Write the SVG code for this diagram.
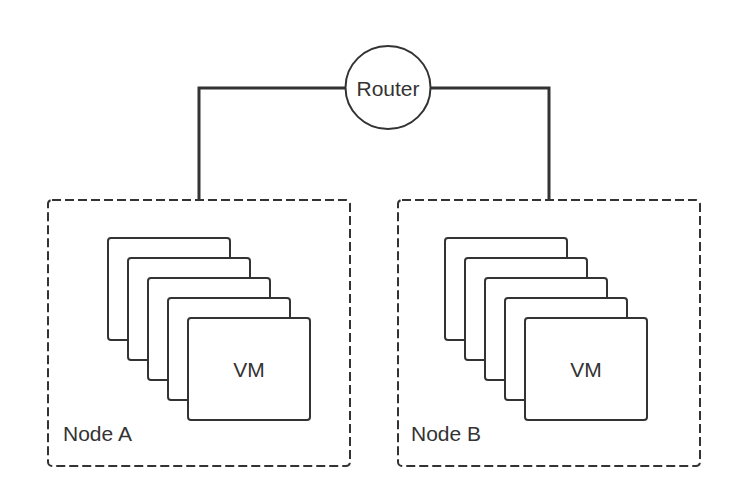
<svg xmlns="http://www.w3.org/2000/svg" width="732" height="499" viewBox="0 0 732 499">
<style>
.conn{fill:none;stroke:#333;stroke-width:3}
.host{fill:none;stroke:#333;stroke-width:2;stroke-dasharray:9 4}
.vm{fill:#fff;stroke:#333;stroke-width:2}
.router{fill:#fff;stroke:#333;stroke-width:2}
text{font-family:"Liberation Sans",Arial,sans-serif;font-size:21px;fill:#333}
</style>
<rect width="732" height="499" fill="#fff"/>
<g id="connectors">
<path class="conn" d="M199 200 V88 H345"/>
<path class="conn" d="M431 88 H549 V200"/>
</g>
<g id="router">
<ellipse class="router" cx="388" cy="87.5" rx="42.5" ry="41.5"/>
<text x="388" y="96" text-anchor="middle">Router</text>
</g>
<g id="nodeA">
<rect class="host" x="48" y="200" width="302" height="266" rx="4"/>
<rect class="vm" x="108" y="238" width="122" height="102" rx="3"/>
<rect class="vm" x="128" y="258" width="122" height="102" rx="3"/>
<rect class="vm" x="148" y="278" width="122" height="102" rx="3"/>
<rect class="vm" x="168" y="298" width="122" height="102" rx="3"/>
<rect class="vm" x="188" y="318" width="122" height="102" rx="3"/>
<text x="249" y="377" text-anchor="middle">VM</text>
<text x="63" y="441">Node A</text>
</g>
<g id="nodeB">
<rect class="host" x="398" y="200" width="302" height="266" rx="4"/>
<rect class="vm" x="445" y="238" width="122" height="102" rx="3"/>
<rect class="vm" x="465" y="258" width="122" height="102" rx="3"/>
<rect class="vm" x="485" y="278" width="122" height="102" rx="3"/>
<rect class="vm" x="505" y="298" width="122" height="102" rx="3"/>
<rect class="vm" x="525" y="318" width="122" height="102" rx="3"/>
<text x="586" y="377" text-anchor="middle">VM</text>
<text x="411" y="441">Node B</text>
</g>
</svg>
